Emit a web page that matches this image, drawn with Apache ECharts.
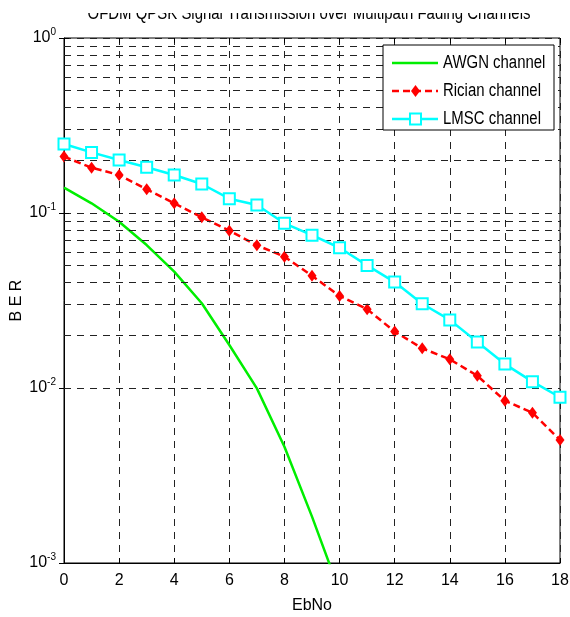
<!DOCTYPE html>
<html>
<head>
<meta charset="utf-8">
<script src="https://cdn.jsdelivr.net/npm/echarts@6/dist/echarts.min.js"></script>
<style>html,body{margin:0;padding:0;background:#fff}#c{width:570px;height:617px}</style>
</head>
<body>
<div id="c"></div>
<script>
var ebno = [0,1,2,3,4,5,6,7,8,9,10,11,12,13,14,15,16,17,18];
var awgn = [0.1395,0.1136,0.0892,0.0656,0.0462,0.0305,0.0176,0.00995,0.00462,0.00184,0.00069];
var rician = [0.210,0.1815,0.165,0.1365,0.1136,0.0945,0.0792,0.0654,0.0563,0.0438,0.0336,0.0282,0.0210,0.01686,0.01459,0.01175,0.00846,0.00722,0.00505];
var lmsc = [0.248,0.222,0.201,0.1824,0.165,0.1465,0.1207,0.111,0.0873,0.0747,0.0633,0.0502,0.0403,0.0303,0.0245,0.0183,0.0137,0.01087,0.00885];
var minorGrid = [0.002,0.003,0.004,0.005,0.006,0.007,0.008,0.009,0.02,0.03,0.04,0.05,0.06,0.07,0.08,0.09,0.2,0.3,0.4,0.5,0.6,0.7,0.8,0.9];
var names = ['AWGN channel','Rician channel','LMSC channel'];
var title = 'OFDM QPSK Signal Transmission over Multipath Fading Channels';

function pairs(ys){ return ys.map(function(v,i){ return [ebno[i], v]; }); }
var dash = {type:[7,6], color:'#222', width:1};
var font = '"Liberation Sans", Arial, sans-serif';

// legend box (drawn as graphic)
var LX = 383, LY = 45, LW = 171, LH = 85;
var rowY = [63, 91, 119];
var colors = ['#00ee00', '#ff0000', '#00ffff'];
var legendEls = [
  {type:'rect', shape:{x:LX, y:LY, width:LW, height:LH}, style:{fill:'#fff', stroke:'#000', lineWidth:1}, z:100}
];
rowY.forEach(function(y, i){
  legendEls.push({type:'line', shape:{x1:392, y1:y, x2:438, y2:y},
    style:{stroke:colors[i], lineWidth:2.5, lineDash: i===1 ? [7,4] : null}, z:101});
  legendEls.push({type:'text', x:443, y:y, scaleX:0.83, style:{text:names[i], fill:'#000', font:'18px ' + font, verticalAlign:'middle', align:'left'}, z:101});
});
legendEls.push({type:'polygon', shape:{points:[[415.5,rowY[1]-6],[420,rowY[1]],[415.5,rowY[1]+6],[411,rowY[1]]]}, style:{fill:'#ff0000'}, z:102});
legendEls.push({type:'rect', shape:{x:410, y:rowY[2]-5.5, width:11, height:11}, style:{fill:'#fff', stroke:'#00ffff', lineWidth:2}, z:102});

var chart = echarts.init(document.getElementById('c'));
chart.setOption({
  animation:false,
  textStyle:{fontFamily:font},
  grid:{left:64, right:10, top:38, bottom:54, show:true, borderColor:'#000', borderWidth:1, backgroundColor:'#fff',
        containLabel:false, outerBoundsMode:'none'},
  graphic:[
    {type:'text', x:309, y:23, scaleX:0.83, style:{text:title, fill:'#000', font:'18px ' + font, align:'center', verticalAlign:'bottom'}, z:50},
    {type:'rect', shape:{x:0, y:0, width:570, height:13}, style:{fill:'#fff'}, z:60}
  ].concat(legendEls),
  xAxis:[{
    type:'value', min:0, max:18, interval:2,
    name:'EbNo', nameLocation:'middle', nameGap:35, nameMoveOverlap:false,
    nameTextStyle:{fontSize:16, color:'#000', fontFamily:font},
    axisLine:{lineStyle:{color:'#000', width:1}},
    axisTick:{inside:true, length:5, lineStyle:{color:'#000'}},
    axisLabel:{fontSize:16, color:'#000', margin:10, fontFamily:font},
    splitLine:{show:true, lineStyle:dash}
  },{
    type:'value', min:0, max:18, interval:2, position:'top',
    axisLine:{show:false}, axisLabel:{show:false}, splitLine:{show:false},
    axisTick:{inside:true, length:5, lineStyle:{color:'#000'}}
  }],
  yAxis:[{
    type:'log', logBase:10, min:0.001, max:1,
    name:'B E R', nameLocation:'middle', nameGap:39, nameRotate:90, nameMoveOverlap:false,
    nameTextStyle:{fontSize:16, color:'#000', fontFamily:font},
    axisLine:{lineStyle:{color:'#000', width:1}},
    axisTick:{inside:true, length:5, lineStyle:{color:'#000'}},
    axisLabel:{
      color:'#000', margin:8,
      formatter:function(v){ var e = Math.round(Math.log10(v)); return '{b|10}{s|' + e + '}'; },
      rich:{b:{fontSize:16, color:'#000', fontFamily:font}, s:{fontSize:10, color:'#000', fontFamily:font, padding:[0,0,12,0]}}
    },
    splitLine:{show:true, lineStyle:dash}
  },{
    type:'log', logBase:10, min:0.001, max:1, position:'right',
    axisLine:{show:false}, axisLabel:{show:false}, splitLine:{show:false},
    axisTick:{inside:true, length:5, lineStyle:{color:'#000'}}
  }],
  series:[
    {type:'line', name:'grid', data:[], silent:true, z:1,
     markLine:{silent:true, symbol:'none', label:{show:false}, lineStyle:dash,
       data:minorGrid.map(function(v){ return {yAxis:v}; })}},
    {type:'line', name:names[0], data:pairs(awgn), showSymbol:false, symbol:'none', clip:true, z:3,
     lineStyle:{color:colors[0], width:2.5}, itemStyle:{color:colors[0]}},
    {type:'line', name:names[1], data:pairs(rician), symbol:'diamond', symbolSize:[9,12], clip:true, z:4,
     lineStyle:{color:colors[1], width:2.5, type:[7,4]}, itemStyle:{color:colors[1]}},
    {type:'line', name:names[2], data:pairs(lmsc), symbol:'rect', symbolSize:11, clip:true, z:5,
     lineStyle:{color:colors[2], width:2.5}, itemStyle:{color:'#fff', borderColor:colors[2], borderWidth:2}}
  ]
});
</script>
</body>
</html>
